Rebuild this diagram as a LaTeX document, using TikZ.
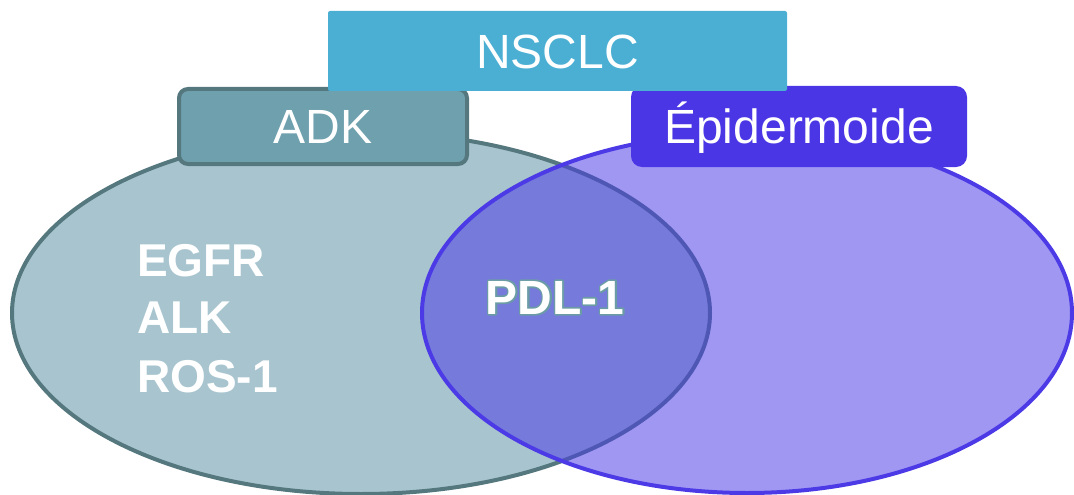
\documentclass[tikz,border=0pt]{standalone}
\usepackage{fontspec}
\setmainfont{Liberation Sans}
\definecolor{leftfill}{HTML}{A8C5CF}
\definecolor{leftline}{HTML}{55787F}
\definecolor{rightline}{HTML}{4B3AE6}
\definecolor{nsclcfill}{HTML}{4BAFD4}
\definecolor{adkfill}{HTML}{6FA0AE}
\definecolor{epifill}{HTML}{4B36E6}
\definecolor{pdlout}{HTML}{6A9CA6}
\newcommand\pdloutlined[1]{\leavevmode
  \rlap{\color{pdlout}\special{pdf:literal direct 0.42 0.61 0.65 RG 3.4 w 1 j 2 Tr}#1\special{pdf:literal direct 0 Tr}}%
  {\color{white}#1}}
\tikzset{
  labelbox/.style={inner sep=0pt, text=white, font=\fontsize{48}{58}\selectfont,
    text height=34.4pt, text depth=0pt},
  listtext/.style={anchor=base west, inner sep=0pt, text=white,
    font=\fontsize{46}{58}\selectfont\bfseries},
}
\begin{document}
\begin{tikzpicture}[x=1pt,y=-1pt]
\useasboundingbox (0,0) rectangle (1074,495);
% ellipses
\draw[line width=4pt, draw=leftline, fill=leftfill] (361,313) ellipse [x radius=349pt, y radius=181pt];
\draw[line width=4pt, draw=rightline, fill=rightline, fill opacity=0.53] (747,313) ellipse [x radius=325pt, y radius=180pt];
% boxes
\node[labelbox, draw=leftline, line width=4pt, fill=adkfill, rounded corners=9pt,
  minimum width=288pt, minimum height=75pt] (adk) at (323,126.5) {ADK};
\node[labelbox, fill=epifill, rounded corners=11pt,
  minimum width=336pt, minimum height=81pt] (epi) at (799,126.5) {Épidermoide};
\node[labelbox, fill=nsclcfill, rounded corners=2pt,
  minimum width=459pt, minimum height=80pt] (nsclc) at (557.5,51) {NSCLC};
% texts
\node[listtext] (egfr) at (137,276) {EGFR};
\node[listtext] (alk) at (137,333) {ALK};
\node[listtext] (ros) at (137,392) {ROS-1};
\node[anchor=base, inner sep=0pt, font=\fontsize{48}{58}\selectfont\bfseries] (pdl) at (555,314) {\pdloutlined{PDL-1}};
\end{tikzpicture}
\end{document}
